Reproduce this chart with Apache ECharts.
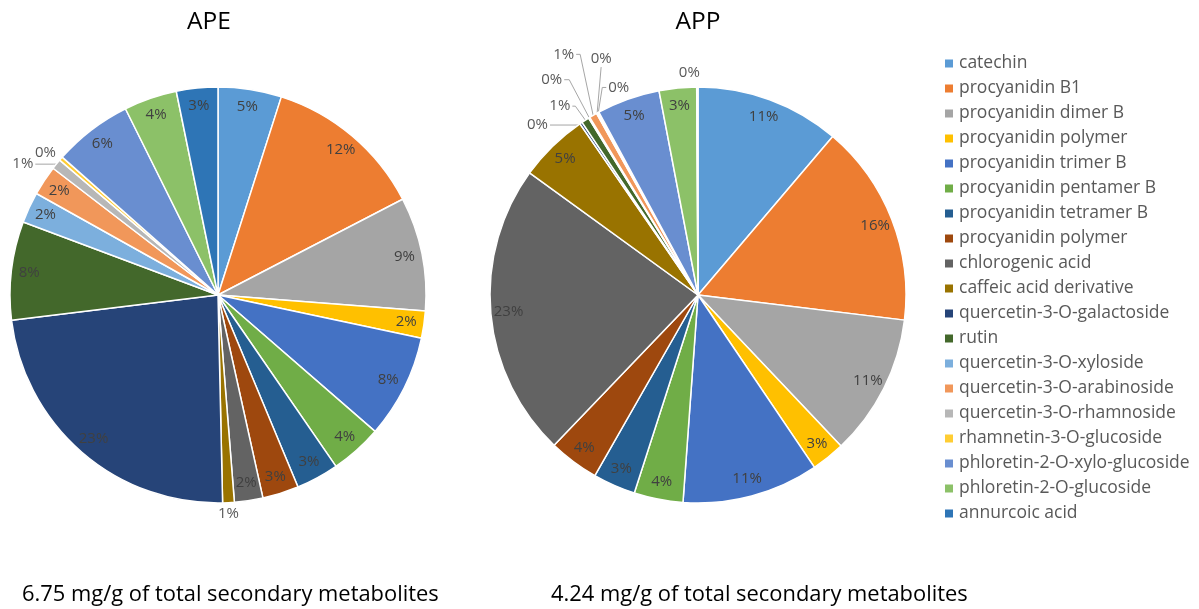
<!DOCTYPE html>
<html>
<head>
<meta charset="utf-8">
<script src="https://cdn.jsdelivr.net/npm/echarts@6/dist/echarts.min.js"></script>
<style>
  html, body { margin: 0; padding: 0; background: #ffffff; }
  #chart { width: 1199px; height: 609px; }
</style>
</head>
<body>
<div id="chart"></div>
<script>
// Secondary metabolite composition of the two extracts
const categories = [
  'catechin', 'procyanidin B1', 'procyanidin dimer B', 'procyanidin polymer',
  'procyanidin trimer B', 'procyanidin pentamer B', 'procyanidin tetramer B',
  'procyanidin polymer', 'chlorogenic acid', 'caffeic acid derivative',
  'quercetin-3-O-galactoside', 'rutin', 'quercetin-3-O-xyloside',
  'quercetin-3-O-arabinoside', 'quercetin-3-O-rhamnoside',
  'rhamnetin-3-O-glucoside', 'phloretin-2-O-xylo-glucoside',
  'phloretin-2-O-glucoside', 'annurcoic acid'
];

// share of total (%) per compound
const apeValues = [4.9, 12.4, 8.8, 2.1, 8.0, 4.0, 3.3, 2.8, 2.2, 0.9,
                   23.3, 7.6, 2.4, 2.3, 0.8, 0.3, 6.1, 4.1, 3.2];
const appValues = [11.2, 15.7, 11.0, 2.6, 10.6, 3.8, 3.3, 3.9, 22.8, 5.4,
                   0.2, 0.6, 0.1, 0.6, 0.1, 0.1, 4.9, 2.9, 0.1];

const pieTitles = ['APE', 'APP'];
const totals = ['6.75 mg/g of total secondary metabolites',
                '4.24 mg/g of total secondary metabolites'];

const palette = [
  '#5B9BD5', '#ED7D31', '#A5A5A5', '#FFC000', '#4472C4', '#70AD47',
  '#255E91', '#9E480E', '#636363', '#997300', '#264478', '#43682B',
  '#7CAFDD', '#F1975A', '#B7B7B7', '#FFCD33', '#698ED0', '#8CC168',
  '#2E75B6'
];

// the two "procyanidin polymer" entries need distinct keys for the legend
const names = categories.map((c, i) => categories.indexOf(c) !== i ? c + ' ' : c);

const FONT = 'Open Sans';
const R = 208;
const SMALL = 1.5; // slices below this share get an outside label
const centers = [[218, 295], [698, 295]];

// leader routing for the outside labels, keyed by slice index:
// elbow = bend offset from the rim point, h = horizontal run after the bend,
// side = where the text sits relative to the leader end, line = leader visible
const apeLeaders = {
  9:  { elbow: [0, 2], h: 0, side: 'bottom', line: false },
  14: { elbow: [-3, 0], h: 18, side: 'left', line: true },
  15: { elbow: [-3, -6], h: 0, side: 'left', line: false }
};
const appLeaders = {
  10: { elbow: [-2, 2], h: 29, side: 'left', line: true },
  11: { elbow: [-10, -14], h: 3, side: 'left', line: true },
  12: { elbow: [-20, -38], h: 5, side: 'left', line: true },
  13: { elbow: [-13, -61], h: 4, side: 'left', line: true },
  14: { elbow: [4, -46], h: 0, side: 'top', line: true },
  15: { elbow: [4, -25], h: 4, side: 'right', line: true },
  18: { elbow: [-8, -6], h: 0, side: 'top', line: false }
};

function pct(v, arr) {
  const t = arr.reduce((a, b) => a + b, 0);
  return v / t * 100;
}

function routeLabel(leaders) {
  return function (p) {
    const cfg = leaders[p.dataIndex];
    if (!cfg || !p.labelLinePoints) return {};
    const p0 = p.labelLinePoints[0];
    const e = [p0[0] + cfg.elbow[0], p0[1] + cfg.elbow[1]];
    let end = e, out;
    if (cfg.side === 'left') {
      end = [e[0] - cfg.h, e[1]];
      out = { x: end[0] - 2, y: end[1], align: 'right', verticalAlign: 'middle' };
    } else if (cfg.side === 'right') {
      end = [e[0] + cfg.h, e[1]];
      out = { x: end[0] + 2, y: end[1], align: 'left', verticalAlign: 'middle' };
    } else if (cfg.side === 'top') {
      out = { x: e[0], y: e[1] - 1, align: 'center', verticalAlign: 'bottom' };
    } else {
      out = { x: e[0], y: e[1] + 1, align: 'center', verticalAlign: 'top' };
    }
    out.labelLinePoints = [p0, e, end];
    return out;
  };
}

function mainSeries(values, center, leaders) {
  return {
    type: 'pie',
    center: center,
    radius: [0, R],
    startAngle: 90,
    clockwise: true,
    avoidLabelOverlap: false,
    itemStyle: { borderColor: '#ffffff', borderWidth: 1.5 },
    emphasis: { disabled: true },
    label: { fontFamily: FONT, fontSize: 15, color: '#595959' },
    labelLayout: routeLabel(leaders),
    data: values.map((v, i) => {
      const p = pct(v, values);
      const small = p < SMALL;
      const cfg = leaders[i] || { line: true };
      return {
        name: names[i],
        value: v,
        itemStyle: { color: palette[i] },
        label: {
          show: small,
          position: 'outside',
          formatter: Math.round(p) + '%',
          color: '#595959',
          fontFamily: FONT,
          fontSize: 15
        },
        labelLine: {
          show: small,
          length: 4,
          length2: 0,
          lineStyle: { color: cfg.line ? '#A6A6A6' : 'rgba(0,0,0,0)', width: 1 }
        }
      };
    })
  };
}

// transparent ring carrying the in-slice percentage labels near the rim
function labelSeries(values, center) {
  return {
    type: 'pie',
    center: center,
    radius: [R * 0.8, R],
    startAngle: 90,
    clockwise: true,
    silent: true,
    legendHoverLink: false,
    itemStyle: { color: 'transparent', borderWidth: 0 },
    emphasis: { disabled: true },
    label: { fontFamily: FONT, fontSize: 15, color: '#404040' },
    labelLine: { show: false },
    data: values.map((v, i) => {
      const p = pct(v, values);
      return {
        name: names[i],
        value: v,
        itemStyle: { color: 'transparent' },
        label: {
          show: p >= SMALL,
          position: 'inside',
          formatter: Math.round(p) + '%',
          color: '#404040',
          fontFamily: FONT,
          fontSize: 15
        }
      };
    })
  };
}

const chart = echarts.init(document.getElementById('chart'), null, { renderer: 'canvas' });

const titleText = [0, 1].map(k => ({
  type: 'text',
  x: [209, 698][k],
  y: 22,
  style: {
    text: pieTitles[k], fill: '#000000', font: '24.5px "' + FONT + '"',
    textAlign: 'center', textVerticalAlign: 'middle'
  }
}));
const totalText = [0, 1].map(k => ({
  type: 'text',
  x: [22, 551][k],
  y: 595,
  style: {
    text: totals[k], fill: '#000000', font: '21.9px "' + FONT + '"',
    textAlign: 'left', textVerticalAlign: 'middle'
  }
}));

chart.setOption({
  backgroundColor: '#ffffff',
  animation: false,
  color: palette,
  graphic: titleText.concat(totalText),
  legend: {
    orient: 'vertical',
    left: 938,
    top: 49,
    icon: 'rect',
    itemWidth: 10,
    itemHeight: 10,
    itemGap: 6,
    selectedMode: false,
    data: names,
    textStyle: { fontFamily: FONT, fontSize: 17.5, color: '#595959', lineHeight: 19 }
  },
  series: [
    mainSeries(apeValues, centers[0], apeLeaders),
    mainSeries(appValues, centers[1], appLeaders),
    labelSeries(apeValues, centers[0]),
    labelSeries(appValues, centers[1])
  ]
});
</script>
</body>
</html>
